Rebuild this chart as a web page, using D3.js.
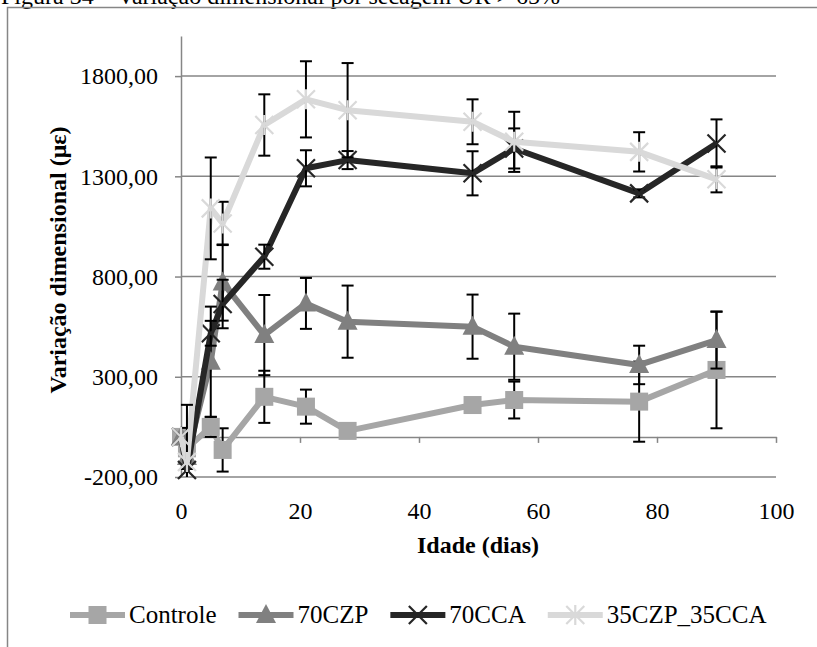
<!DOCTYPE html>
<html>
<head>
<meta charset="utf-8">
<script src="https://cdn.jsdelivr.net/npm/d3@7"></script>
<style>
  body { margin: 0; background: #fff; }
  svg { display: block; }
  text { font-family: "Liberation Serif", "Times New Roman", serif; fill: #000; }
</style>
</head>
<body>
<div id="chart"></div>
<script>
// data
var days = [0, 1, 5, 7, 14, 21, 28, 49, 56, 77, 90];
var controle    = [0, -57, 50, -65, 200, 151, 30, 159, 184, 176, 334];
var controleErr = [0, 40, 50, 108, 130, 85, 20, 20, 92, 200, 291];
var czp70       = [0, -100, 375, 770, 508, 666, 575, 550, 450, 359, 483];
var czp70Err    = [0, 60, 275, 190, 200, 127, 180, 160, 165, 96, 142];
var cca70       = [0, -165, 517, 663, 899, 1340, 1381, 1315, 1439, 1215, 1464];
var cca70Err    = [0, 210, 62, 121, 60, 90, 45, 110, 100, 20, 120];
var mix         = [0, -125, 1140, 1065, 1556, 1684, 1630, 1572, 1472, 1422, 1285];
var mixErr      = [0, 285, 254, 108, 153, 190, 235, 112, 150, 98, 65];

var seriesNames = ['Controle', '70CZP', '70CCA', '35CZP_35CCA'];
var xTicks = [0, 20, 40, 60, 80, 100];
var yTicks = [-200, 300, 800, 1300, 1800];

var chart_width = 817;
var chart_height = 647;
var axis_color = '#868686';

var series = [
    { name: seriesNames[0], values: controle, err: controleErr, color: '#a6a6a6', marker: 'square' },
    { name: seriesNames[1], values: czp70, err: czp70Err, color: '#808080', marker: 'triangle' },
    { name: seriesNames[2], values: cca70, err: cca70Err, color: '#262626', marker: 'x' },
    { name: seriesNames[3], values: mix, err: mixErr, color: '#d9d9d9', marker: 'star' }
];

var svg = d3.select('#chart')
    .append('svg')
    .attr('width', chart_width)
    .attr('height', chart_height);

// Title (cut off at the top in the source)
svg.append('text')
    .attr('x', 1)
    .attr('y', 4)
    .style('font-size', '24px')
    .text('Figura 34 – Variação dimensional por secagem UR > 65%');

// Frame
svg.append('path')
    .attr('d', 'M7.5,' + chart_height + 'V7.5H' + chart_width)
    .attr('fill', 'none')
    .attr('stroke', axis_color)
    .attr('stroke-width', 1.5);

// Scales
var x_scale = d3.scaleLinear().domain([0, 100]).range([181, 776]);
var y_scale = d3.scaleLinear().domain([-200, 2000]).range([477, 36]);

var fmt = function(d) { return d.toFixed(2).replace('.', ','); };

// Gridlines
svg.append('g')
    .selectAll('line')
    .data(yTicks)
    .enter()
    .append('line')
    .attr('x1', x_scale(0))
    .attr('x2', x_scale(100))
    .attr('y1', function(d) { return y_scale(d); })
    .attr('y2', function(d) { return y_scale(d); })
    .attr('stroke', axis_color)
    .attr('stroke-width', 1.5);

// Y axis
var y_axis = d3.axisLeft(y_scale)
    .tickValues(yTicks)
    .tickSize(6)
    .tickSizeOuter(0)
    .tickPadding(17)
    .tickFormat(fmt);
var gy = svg.append('g')
    .attr('transform', 'translate(' + x_scale(0) + ',0)')
    .call(y_axis);
gy.selectAll('path, line').attr('stroke', axis_color).attr('stroke-width', 1.5);
gy.selectAll('text').style('font-size', '24px').style('font-family', '"Liberation Serif", serif').attr('fill', '#000');

// X axis line at zero with ticks
var x_axis = d3.axisBottom(x_scale)
    .tickValues(xTicks)
    .tickSize(6)
    .tickSizeOuter(0)
    .tickFormat('');
var gx = svg.append('g')
    .attr('transform', 'translate(0,' + y_scale(0) + ')')
    .call(x_axis);
gx.selectAll('path, line').attr('stroke', axis_color).attr('stroke-width', 1.5);

// X tick labels at the bottom of the plot
var x_labels = d3.axisBottom(x_scale)
    .tickValues(xTicks)
    .tickSize(0)
    .tickPadding(25)
    .tickFormat(d3.format('d'));
var gxl = svg.append('g')
    .attr('transform', 'translate(0,' + y_scale(-200) + ')')
    .call(x_labels);
gxl.select('.domain').remove();
gxl.selectAll('text').style('font-size', '24px').style('font-family', '"Liberation Serif", serif').attr('fill', '#000');

// Axis titles
svg.append('text')
    .attr('x', 478)
    .attr('y', 553)
    .attr('text-anchor', 'middle')
    .style('font-size', '24px')
    .style('font-weight', 'bold')
    .text('Idade (dias)');

svg.append('text')
    .attr('transform', 'translate(66,260) rotate(-90)')
    .attr('text-anchor', 'middle')
    .style('font-size', '24px')
    .style('font-weight', 'bold')
    .text('Variação dimensional (με)');

// Markers
function drawMarker(g, type, color, cx, cy) {
    if (type === 'square') {
        g.append('rect')
            .attr('x', cx - 9).attr('y', cy - 9)
            .attr('width', 18).attr('height', 18)
            .attr('fill', color);
    } else if (type === 'triangle') {
        g.append('path')
            .attr('d', 'M' + cx + ',' + (cy - 11) + 'L' + (cx + 10) + ',' + (cy + 8) + 'L' + (cx - 10) + ',' + (cy + 8) + 'Z')
            .attr('fill', color);
    } else if (type === 'x') {
        g.append('path')
            .attr('d', 'M' + (cx - 9) + ',' + (cy - 9) + 'L' + (cx + 9) + ',' + (cy + 9) +
                       'M' + (cx + 9) + ',' + (cy - 9) + 'L' + (cx - 9) + ',' + (cy + 9))
            .attr('stroke', color).attr('stroke-width', 2.2);
    } else {
        g.append('path')
            .attr('d', 'M' + (cx - 9) + ',' + (cy - 9) + 'L' + (cx + 9) + ',' + (cy + 9) +
                       'M' + (cx + 9) + ',' + (cy - 9) + 'L' + (cx - 9) + ',' + (cy + 9) +
                       'M' + cx + ',' + (cy - 10) + 'L' + cx + ',' + (cy + 10))
            .attr('stroke', color).attr('stroke-width', 2.2);
    }
}

var line = d3.line()
    .x(function(d) { return x_scale(d.day); })
    .y(function(d) { return y_scale(d.value); });

var clip = function(v) { return Math.max(-200, Math.min(2000, v)); };

series.forEach(function(s) {
    var pts = days.map(function(d, i) { return { day: d, value: s.values[i], err: s.err[i] }; });
    var g = svg.append('g');

    g.append('path')
        .datum(pts)
        .attr('fill', 'none')
        .attr('stroke', s.color)
        .attr('stroke-width', 6)
        .attr('stroke-linejoin', 'round')
        .attr('d', line);

    // Error bars
    pts.forEach(function(p) {
        if (!p.err) return;
        var cx = x_scale(p.day);
        var top = clip(p.value + p.err);
        var bot = clip(p.value - p.err);
        var eg = g.append('g').attr('stroke', '#000').attr('stroke-width', 2);
        eg.append('line').attr('x1', cx).attr('x2', cx)
            .attr('y1', y_scale(top)).attr('y2', y_scale(bot));
        if (p.value + p.err <= 2000) {
            eg.append('line').attr('x1', cx - 6).attr('x2', cx + 6)
                .attr('y1', y_scale(top)).attr('y2', y_scale(top));
        }
        if (p.value - p.err >= -200) {
            eg.append('line').attr('x1', cx - 6).attr('x2', cx + 6)
                .attr('y1', y_scale(bot)).attr('y2', y_scale(bot));
        }
    });

    pts.forEach(function(p) {
        drawMarker(g, s.marker, s.color, x_scale(p.day), y_scale(p.value));
    });
});

// Legend
var legend = svg.append('g').attr('transform', 'translate(0,615)');
var lx = 70;
series.forEach(function(s) {
    legend.append('line')
        .attr('x1', lx).attr('x2', lx + 55)
        .attr('y1', 0).attr('y2', 0)
        .attr('stroke', s.color)
        .attr('stroke-width', 6);
    drawMarker(legend, s.marker, s.color, lx + 27.5, 0);
    var t = legend.append('text')
        .attr('x', lx + 59)
        .attr('y', 8)
        .style('font-size', '25px')
        .text(s.name);
    lx = lx + 59 + t.node().getComputedTextLength() + 22;
});
</script>
</body>
</html>
